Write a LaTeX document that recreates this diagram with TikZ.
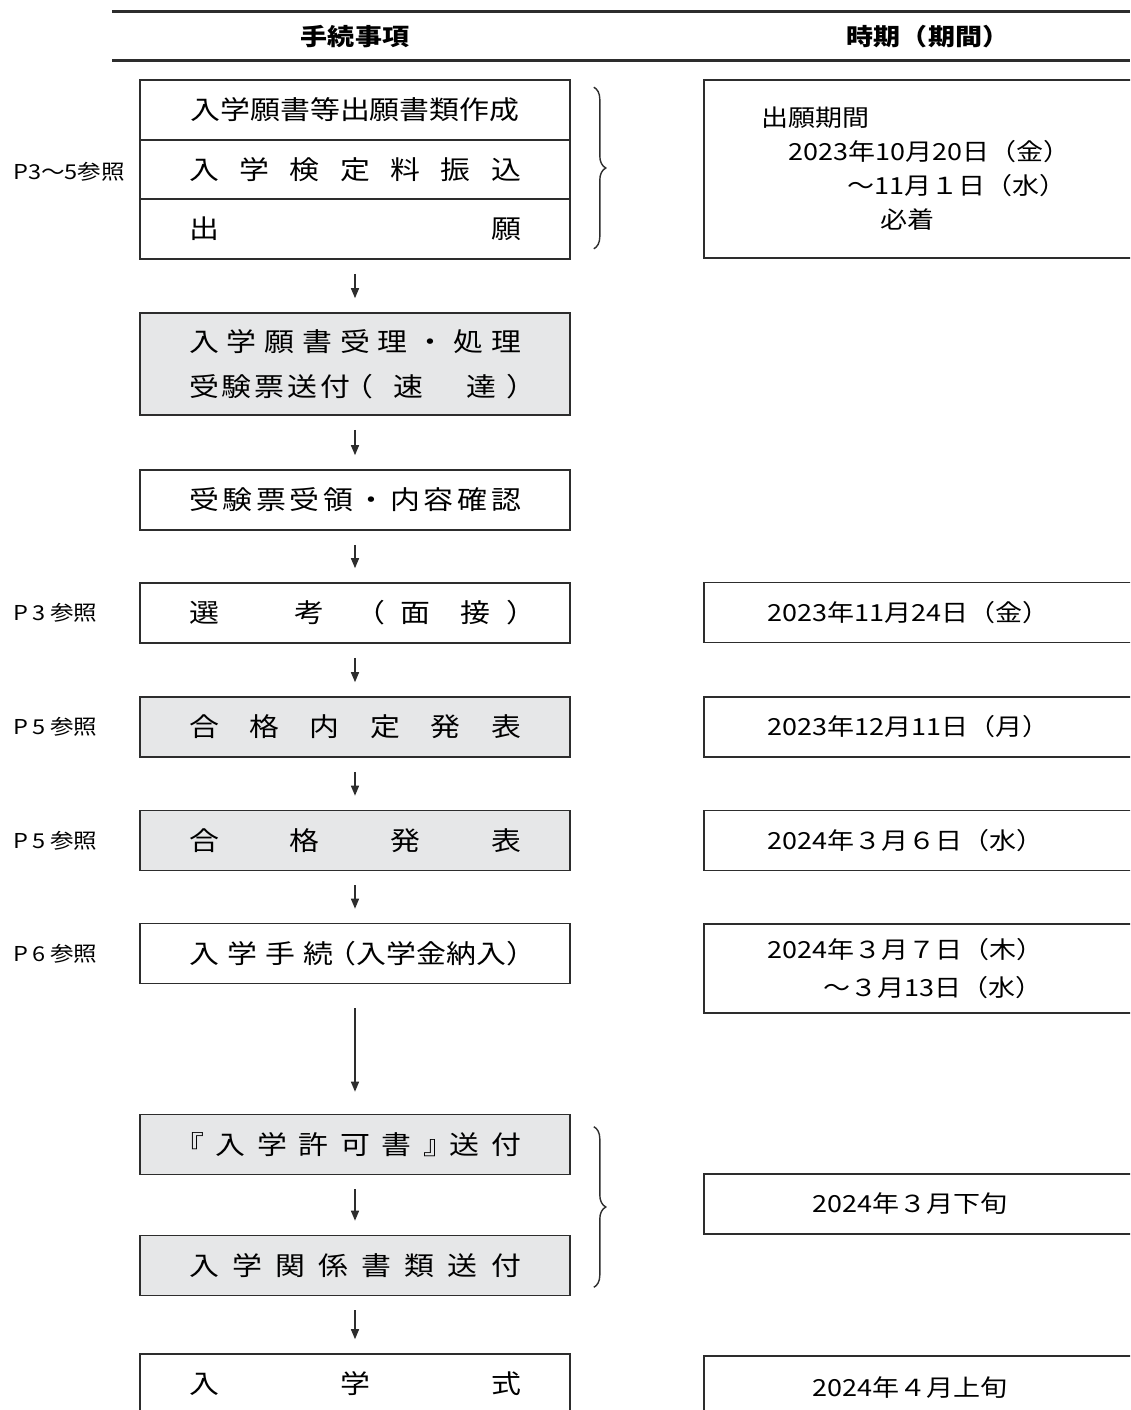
\documentclass[tikz,border=0pt]{standalone}
\usepackage{fontspec}
\setmainfont{Noto Sans CJK JP}[FakeStretch=1.15]
\usetikzlibrary{arrows.meta,positioning,decorations.pathreplacing}

\definecolor{boxgray}{RGB}{230,231,232}
\definecolor{linegray}{RGB}{45,45,45}

\newcommand{\spreadbox}[1]{\makebox[332pt][s]{#1}}
\newcommand{\kakkoL}{\makebox[15pt][r]{（}}
\newcommand{\kakkoR}{\makebox[15pt][l]{）}}
\newcommand{\kagiL}{\makebox[15pt][r]{『}}
\newcommand{\kagiR}{\makebox[15pt][l]{』}}

\tikzset{
  proc/.style={draw=linegray, line width=1.6pt, minimum width=430pt, minimum height=60pt,
    inner sep=0pt, align=center, font=\fontsize{26}{45}\selectfont},
  procgray/.style={proc, fill=boxgray},
  datebox/.style={draw=linegray, line width=1.6pt, anchor=west, minimum height=60pt,
    inner sep=0pt, text width=440pt, align=left, font=\fontsize{23.5}{34}\selectfont},
  pagelabel/.style={anchor=west, inner sep=0pt, font=\fontsize{20.5}{24}\selectfont},
  headtext/.style={font=\fontsize{23.5}{28}\selectfont\bfseries},
  headrule/.style={line width=3pt, linegray},
  flow/.style={-{Triangle[length=10pt,width=8pt]}, line width=1.4pt, linegray,
    shorten <=14pt, shorten >=14pt},
  curly/.style={decorate, decoration={brace, amplitude=12pt}, line width=1.4pt, linegray},
}

\begin{document}
\begin{tikzpicture}[x=1pt, y=-1pt]
  \useasboundingbox (0,0) rectangle (1130,1410);
  \clip (0,0) rectangle (1130,1410);

  % header
  \draw[headrule] (112,12) -- (1130,12);
  \draw[headrule] (112,61) -- (1130,61);
  \node[headtext] (hstep) at (355,37) {手続事項};
  \node[headtext] (htime) at (928,37) {時期（期間）};

  % left column
  \node[proc] (apply1) at (355,110) {入学願書等出願書類作成};
  \node[proc] (apply2) at (355,169.5) {\spreadbox{入\hfill 学\hfill 検\hfill 定\hfill 料\hfill 振\hfill 込}};
  \node[proc] (apply3) at (355,229) {\spreadbox{出\hfill 願}};
  \node[procgray, minimum height=102pt] (accept) at (355,364)
    {\spreadbox{入\hfill 学\hfill 願\hfill 書\hfill 受\hfill 理\hfill ・\hfill 処\hfill 理}\\
     \spreadbox{受\kern3pt 験\kern3pt 票\kern3pt 送\kern3pt 付\kern8pt\kakkoL\kern20pt 速\hfill 達\kern10pt\kakkoR}};
  \node[proc] (ticket) at (355,500) {\spreadbox{受\hfill 験\hfill 票\hfill 受\hfill 領\hfill ・\hfill 内\hfill 容\hfill 確\hfill 認}};
  \node[proc] (exam) at (355,613) {\spreadbox{選\hfill\hfill\hfill\hfill\hfill 考\hfill\hfill\hfill\kakkoL\hfill 面\hfill\hfill 接\hfill\kakkoR}};
  \node[procgray] (prelim) at (355,727) {\spreadbox{合\hfill 格\hfill 内\hfill 定\hfill 発\hfill 表}};
  \node[procgray] (pass) at (355,840.5) {\spreadbox{合\hfill 格\hfill 発\hfill 表}};
  \node[proc] (enrol) at (355,953.5) {\spreadbox{入\hfill 学\hfill 手\hfill 続\hfill\kakkoL 入学金納入\kakkoR}};
  \node[procgray] (permit) at (355,1144.5) {\spreadbox{\kagiL\hfill 入\hfill 学\hfill 許\hfill 可\hfill 書\hfill\kagiR\hfill 送\hfill 付}};
  \node[procgray] (docs) at (355,1265.5) {\spreadbox{入\hfill 学\hfill 関\hfill 係\hfill 書\hfill 類\hfill 送\hfill 付}};
  \node[proc] (ceremony) at (355,1384) {\spreadbox{入\hfill 学\hfill 式}};

  % page references
  \node[pagelabel] (papply) at (13,172) {P3～5参照};
  \node[pagelabel] (pexam) at (13,613) {P\kern4pt 3\kern5pt 参照};
  \node[pagelabel] (pprelim) at (13,727) {P\kern4pt 5\kern5pt 参照};
  \node[pagelabel] (ppass) at (13,840.5) {P\kern4pt 5\kern5pt 参照};
  \node[pagelabel] (penrol) at (13,953.5) {P\kern4pt 6\kern5pt 参照};

  % right column
  \node[datebox, minimum height=178pt] (dapply) at (703,169)
    {\hspace*{58pt}出願期間\\
     \hspace*{85pt}2023年10月20日（金）\\
     \hspace*{144pt}～11月１日（水）\\
     \hspace*{177pt}必着};
  \node[datebox] (dexam) at (703,612.5) {\hspace*{64pt}2023年11月24日（金）};
  \node[datebox] (dprelim) at (703,727) {\hspace*{64pt}2023年12月11日（月）};
  \node[datebox] (dpass) at (703,840.5) {\hspace*{64pt}2024年３月６日（水）};
  \node[datebox, minimum height=89pt, font=\fontsize{23.5}{38}\selectfont] (denrol) at (703,968.5)
    {\hspace*{64pt}2024年３月７日（木）\\
     \hspace*{120pt}～３月13日（水）};
  \node[datebox] (dsend) at (703,1204) {\hspace*{109pt}2024年３月下旬};
  \node[datebox, minimum height=64pt] (dceremony) at (703,1388) {\hspace*{109pt}2024年４月上旬};

  % braces
  \draw[curly] ([shift={(23,8)}]apply1.north east) -- ([shift={(23,-11)}]apply3.south east);
  \draw[curly] ([shift={(23,13)}]permit.north east) -- ([shift={(23,-9)}]docs.south east);

  % arrows
  \draw[flow] (apply3) -- (accept);
  \draw[flow] (accept) -- (ticket);
  \draw[flow] (ticket) -- (exam);
  \draw[flow] (exam) -- (prelim);
  \draw[flow] (prelim) -- (pass);
  \draw[flow] (pass) -- (enrol);
  \draw[flow, shorten <=24pt, shorten >=22pt] (enrol) -- (permit);
  \draw[flow] (permit) -- (docs);
  \draw[flow] (docs) -- (ceremony);
\end{tikzpicture}
\end{document}
